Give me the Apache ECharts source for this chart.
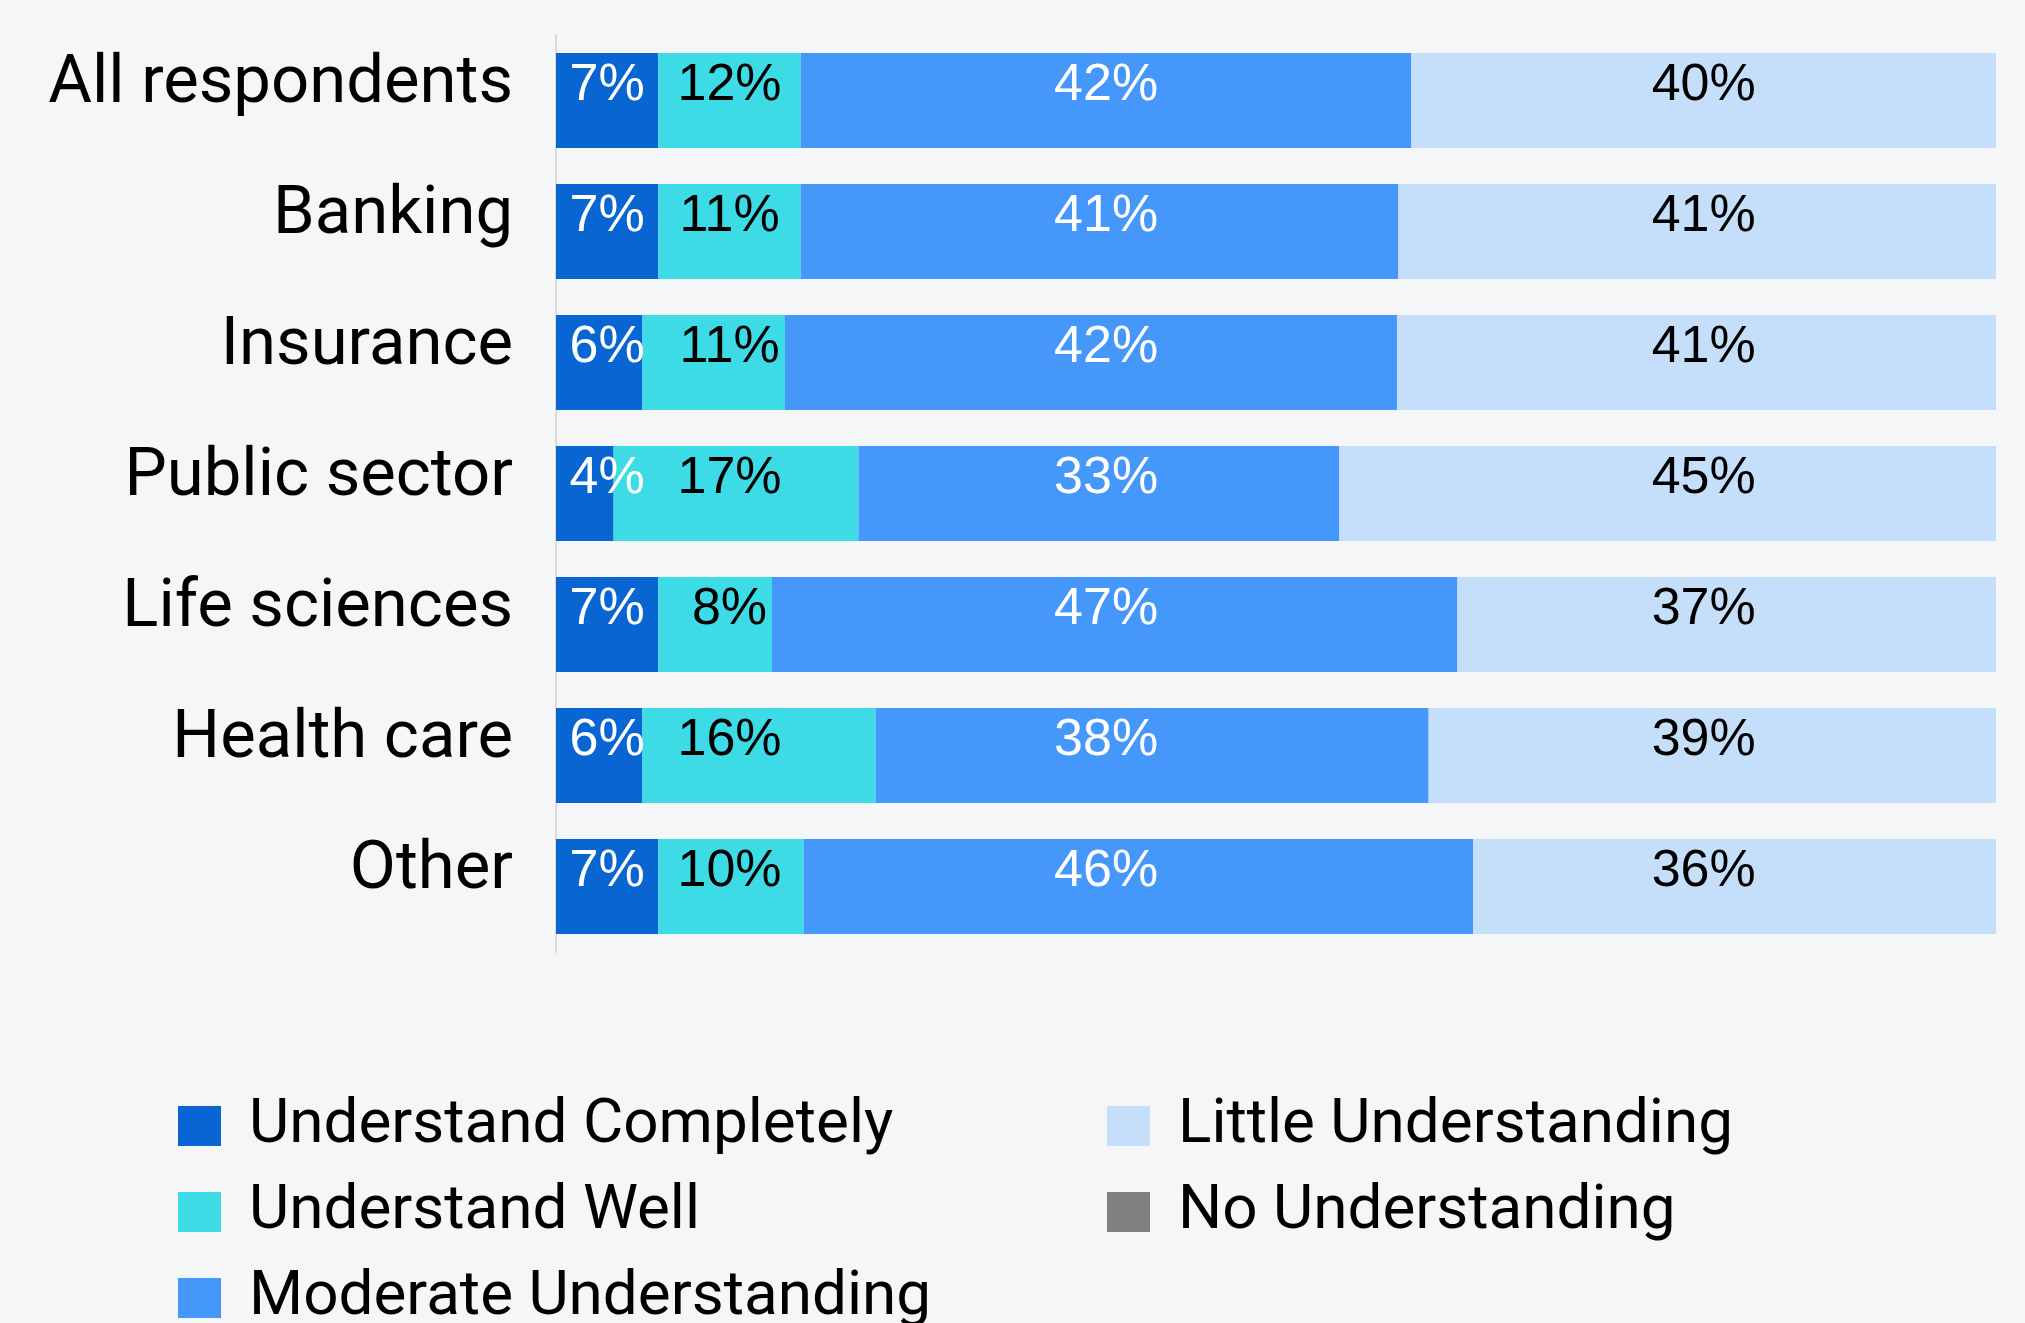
<!DOCTYPE html>
<html>
<head>
<meta charset="utf-8">
<script src="https://cdn.jsdelivr.net/npm/echarts@6/dist/echarts.min.js"></script>
<style>
  html, body { margin: 0; padding: 0; background: #f5f6f8; }
  #chart { width: 2025px; height: 1323px; }
</style>
</head>
<body>
<div id="chart"></div>
<script>
// categories, top to bottom
const categories = ['All respondents', 'Banking', 'Insurance', 'Public sector', 'Life sciences', 'Health care', 'Other']

// segment lengths (% of bar)
const completely = [7.1, 7.1, 6.0, 4.0, 7.1, 6.0, 7.1]
const well = [9.9, 9.9, 9.9, 17.0, 7.9, 16.2, 10.1]
const moderate = [42.4, 41.5, 42.5, 33.4, 47.6, 38.4, 46.5]
const little = [40.6, 41.5, 41.6, 45.6, 37.4, 39.4, 36.3]
const noUnderstanding = []

// percentages as printed on the bars
const completelyLabels = [7, 7, 6, 4, 7, 6, 7]
const wellLabels = [12, 11, 11, 17, 8, 16, 10]
const moderateLabels = [42, 41, 42, 33, 47, 38, 46]
const littleLabels = [40, 41, 41, 45, 37, 39, 36]

const colors = {
  completely: '#0865d1',
  well: '#3ddbe6',
  moderate: '#4697fa',
  little: '#c5dffb',
  none: '#808080'
}

const stackOrder = [completely, well, moderate, little]

const chart = echarts.init(document.getElementById('chart'))

const makeSeries = (name, data, labels, color, labelColor) => ({
  name: name,
  type: 'bar',
  stack: 'total',
  barWidth: 95,
  data: data,
  itemStyle: { color: color },
  label: {
    show: true,
    position: 'inside',
    offset: [0, -15],
    color: labelColor,
    fontFamily: 'Liberation Sans',
    fontSize: 52,
    formatter: (p) => labels[p.dataIndex] + '%'
  }
})

const legendText = {
  fontFamily: 'Roboto',
  fontSize: 62,
  color: '#000',
  padding: [0, 0, 0, 23]
}

const legendBase = {
  orient: 'vertical',
  top: 1095,
  height: 260,
  padding: 0,
  itemWidth: 43,
  itemHeight: 40,
  itemGap: 24,
  icon: 'rect',
  textStyle: legendText
}

const option = {
  backgroundColor: '#f5f6f8',
  animation: false,
  grid: {
    left: 556,
    right: 29,
    top: 35,
    height: 917
  },
  legend: [
    Object.assign({}, legendBase, {
      left: 178,
      data: ['Understand Completely', 'Understand Well', 'Moderate Understanding']
    }),
    Object.assign({}, legendBase, {
      left: 1107,
      data: ['Little Understanding', 'No Understanding']
    })
  ],
  xAxis: {
    type: 'value',
    min: 0,
    max: 100,
    show: false
  },
  yAxis: {
    type: 'category',
    inverse: true,
    data: categories,
    axisLine: { show: true, lineStyle: { color: '#d9d9d9', width: 2 } },
    axisTick: { show: false },
    axisLabel: {
      margin: 43,
      color: '#000',
      fontFamily: 'Roboto',
      fontSize: 67,
      verticalAlign: 'bottom',
      lineHeight: 31
    }
  },
  series: [
    makeSeries('Understand Completely', completely, completelyLabels, colors.completely, '#fff'),
    makeSeries('Understand Well', well, wellLabels, colors.well, '#000'),
    makeSeries('Moderate Understanding', moderate, moderateLabels, colors.moderate, '#fff'),
    makeSeries('Little Understanding', little, littleLabels, colors.little, '#000'),
    makeSeries('No Understanding', noUnderstanding, [], colors.none, '#000')
  ]
}

chart.setOption(option)

// labels in the source sit in fixed columns (lined up with the first bar's segments)
const segmentCenter = (s, row) => {
  let start = 0
  for (let k = 0; k < s; k++) start += stackOrder[k][row]
  return start + stackOrder[s][row] / 2
}

const toPx = (v) => chart.convertToPixel({ xAxisIndex: 0 }, v)

const alignedSeries = stackOrder.map((arr, s) => ({
  data: arr.map((v, row) => ({
    value: v,
    label: { offset: [toPx(segmentCenter(s, 0)) - toPx(segmentCenter(s, row)), -15] }
  }))
}))

chart.setOption({ series: alignedSeries })
</script>
</body>
</html>
